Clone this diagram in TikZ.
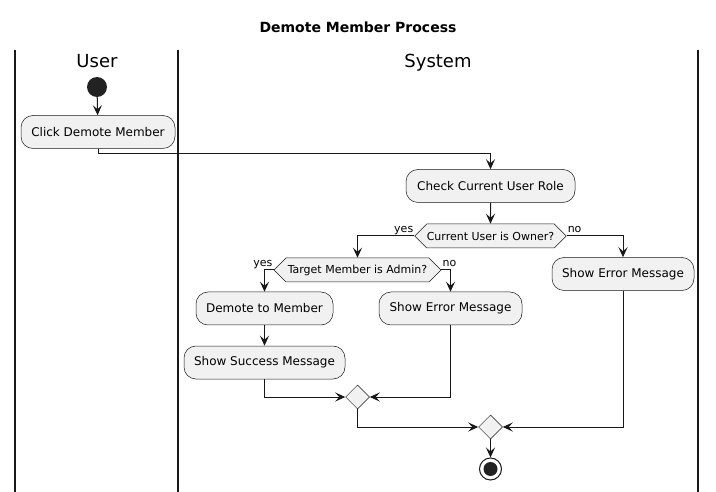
\documentclass[tikz,border=0pt]{standalone}
\usepackage{fontspec}
\setmainfont{DejaVu Sans}
\usetikzlibrary{arrows.meta,shapes.geometric,shapes.symbols,calc}
\definecolor{boxfill}{HTML}{F1F1F1}
\definecolor{ln}{HTML}{181818}
\definecolor{dot}{HTML}{222222}
\begin{document}
\begin{tikzpicture}[x=1pt,y=-1pt,
  act/.style={rectangle, rounded corners=12pt, draw=ln, line width=0.5pt, fill=boxfill,
    minimum height=33pt, inner sep=0pt, font=\fontsize{12}{14}\selectfont},
  dec/.style={signal, signal to=west and east, signal pointer angle=90, draw=ln,
    line width=0.5pt, fill=boxfill, minimum height=24pt, inner sep=0pt,
    font=\fontsize{11}{13}\selectfont},
  merge/.style={diamond, draw=ln, line width=0.5pt, fill=boxfill, minimum size=24pt, inner sep=0pt},
  flow/.style={draw=ln, line width=1pt, -{Stealth[length=10pt,width=9pt,inset=4pt]}},
  plain/.style={draw=ln, line width=1pt},
  lane/.style={draw=ln, line width=1.5pt},
  lbl/.style={font=\fontsize{11}{13}\selectfont, inner sep=0pt},
  hdr/.style={font=\fontsize{18}{20}\selectfont, inner sep=0pt, anchor=base}
]
\useasboundingbox (0,0) rectangle (716,492);
\fill[white] (0,0) rectangle (716,492);

% title and lanes
\node[font=\fontsize{14}{16}\selectfont\bfseries, anchor=base, inner sep=0pt] (title) at (358,33) {Demote Member Process};
\draw[lane] (15,50) -- (15,492);
\draw[lane] (178,50) -- (178,492);
\draw[lane] (698,50) -- (698,492);
\node[hdr] (huser) at (97,68) {User};
\node[hdr] (hsys) at (438,68) {System};

% nodes
\node[circle, fill=dot, minimum size=20pt, inner sep=0pt] (start) at (97,87) {};
\node[act, minimum width=154pt] (click) at (98,132) {Click Demote Member};
\node[act, minimum width=169pt] (check) at (490.5,186) {Check Current User Role};
\node[dec, minimum width=151pt] (owner) at (490.5,236) {Current User is Owner?};
\node[dec, minimum width=167pt] (admin) at (357.5,270) {Target Member is Admin?};
\node[act, minimum width=137pt] (demote) at (264.5,308.5) {Demote to Member};
\node[act, minimum width=161pt] (succ) at (264.5,362.5) {Show Success Message};
\node[act, minimum width=143pt] (err1) at (450.5,308.5) {Show Error Message};
\node[act, minimum width=142pt] (err2) at (623,274) {Show Error Message};
\node[merge] (m1) at (357.5,397) {};
\node[merge] (m2) at (490.5,427) {};
\node[circle, draw=ln, line width=1pt, fill=white, minimum size=22pt, inner sep=0pt] (end) at (490.5,469) {};
\node[circle, fill=dot, minimum size=14pt, inner sep=0pt] (endin) at (end.center) {};

% connectors
\draw[flow] (start) -- (click);
\draw[flow] (click.south) -- (click.south |- 0,154) -| (check.north);
\draw[flow] (check) -- (owner);
\draw[flow] (owner.west) -| (admin.north);
\draw[flow] (owner.east) -| (err2.north);
\draw[flow] (admin.west) -| (demote.north);
\draw[flow] (admin.east) -| (err1.north);
\draw[flow] (demote) -- (succ);
\draw[flow] (succ.south) |- (m1.west);
\draw[flow] (err1.south) |- (m1.east);
\draw[flow] (m1.south) |- (m2.west);
\draw[flow] (err2.south) |- (m2.east);
\draw[flow] (m2) -- (end);

% branch labels
\node[lbl, anchor=base east] (l1) at ($(owner.west)+(-1,-3)$) {yes};
\node[lbl, anchor=base west] (l2) at ($(owner.east)+(1,-3)$) {no};
\node[lbl, anchor=base east] (l3) at ($(admin.west)+(-1,-3)$) {yes};
\node[lbl, anchor=base west] (l4) at ($(admin.east)+(1,-3)$) {no};
\end{tikzpicture}
\end{document}
